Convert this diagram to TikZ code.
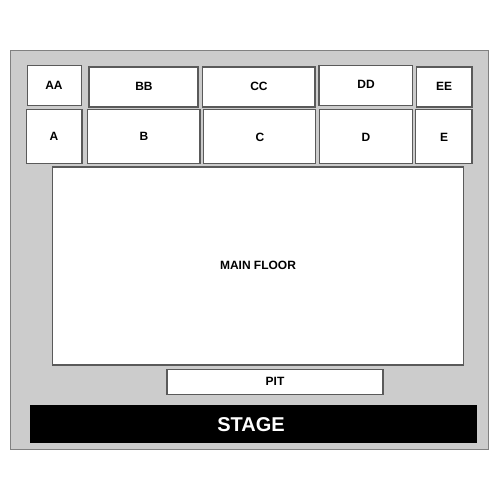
\documentclass[tikz,border=0pt]{standalone}
\usepackage{fontspec}
\setmainfont{Liberation Sans}
\tikzset{every picture/.style={line width=0.75pt}}
\tikzset{
	hall/.style={draw={rgb, 255:red, 128; green, 128; blue, 128 }, fill={rgb, 255:red, 204; green, 204; blue, 204 }, line width=1pt},
	seat/.style={draw={rgb, 255:red, 90; green, 90; blue, 90 }, fill=white, line width=1pt},
	seatlabel/.style={font=\fontsize{9}{11}\selectfont\bfseries}
}

\begin{document}
\begin{tikzpicture}[x=0.75pt,y=0.75pt,yscale=-1,xscale=1]
	\useasboundingbox (0,0) rectangle (500,500);

	%Shape: Rectangle [hall]
	\draw [hall] (10.5,50.5) rectangle (488.5,449.5);

	%Upper row
	\draw [seat] (27.5,65.5) rectangle (81.5,105.5);
	\draw [seat] (89,67) rectangle (198,107);
	\draw [seat] (202.5,67) rectangle (315,107);
	\draw [seat] (319,65.5) rectangle (412.5,105.5);
	\draw [seat] (416.5,67) rectangle (472,107);
	%Lower row
	\draw [seat] (26.5,109.5) rectangle (82,163.5);
	\draw [seat] (87.5,109.5) rectangle (200,163.5);
	\draw [seat] (203.5,109.5) rectangle (315.5,163.5);
	\draw [seat] (319.5,109.5) rectangle (412.5,163.5);
	\draw [seat] (415.5,109.5) rectangle (472,163.5);
	%Shape: Rectangle [main floor]
	\draw [seat] (52.5,167) rectangle (463.5,365);
	%Shape: Rectangle [pit]
	\draw [seat] (167,369.5) rectangle (383,394.5);
	%Shape: Rectangle [stage]
	\draw [draw=black, fill=black] (30.5,405.5) rectangle (476.5,442.5);

	% Text Node
	\node [seatlabel] (aa) at (54,85) {AA};
	\node [seatlabel] (bb) at (144,86) {BB};
	\node [seatlabel] (cc) at (259,86) {CC};
	\node [seatlabel] (dd) at (366,84) {DD};
	\node [seatlabel] (ee) at (444,86) {EE};
	% Text Node
	\node [seatlabel] (a) at (54,136) {A};
	\node [seatlabel] (b) at (144,136) {B};
	\node [seatlabel] (c) at (260,137) {C};
	\node [seatlabel] (d) at (366,137) {D};
	\node [seatlabel] (e) at (444,137) {E};
	% Text Node
	\node [seatlabel] (mainfloor) at (258,265) {MAIN FLOOR};
	\node [seatlabel] (pit) at (275,381) {PIT};
	\node [font=\fontsize{15}{18}\selectfont\bfseries, text=white] (stage) at (251,425) {STAGE};

\end{tikzpicture}
\end{document}
